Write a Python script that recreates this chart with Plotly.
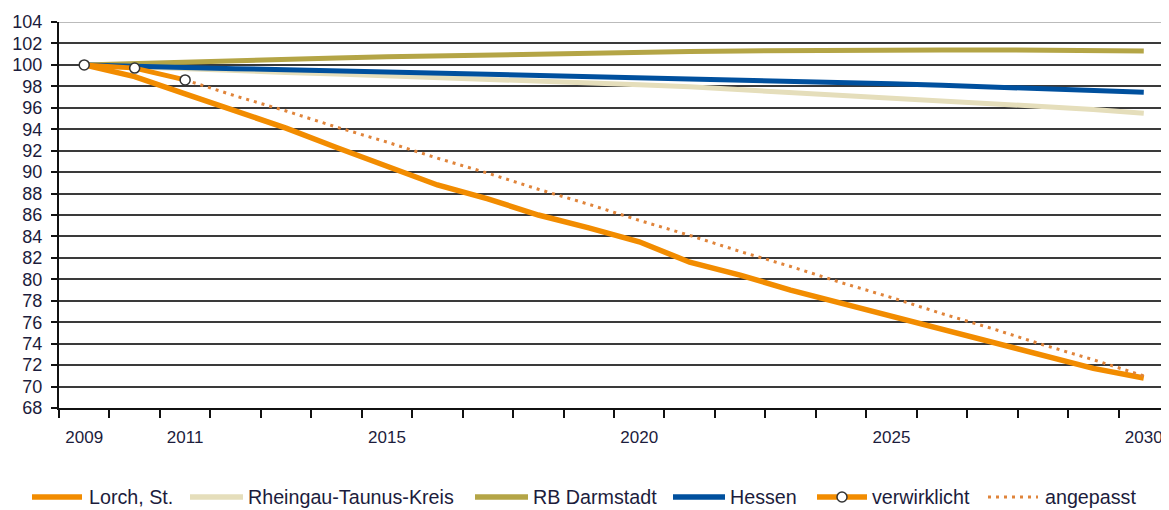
import plotly.graph_objects as go

years = list(range(2009, 2031))
lorch = [100, 98.9, 97.3, 95.7, 94.1, 92.3, 90.5, 88.8, 87.5, 86.0, 84.8, 83.5,
         81.6, 80.4, 79.0, 77.8, 76.6, 75.4, 74.2, 72.9, 71.7, 70.8]
rheingau = [100, 99.8, 99.6, 99.45, 99.3, 99.15, 99.0, 98.85, 98.7, 98.55, 98.35, 98.15,
            97.95, 97.7, 97.45, 97.2, 96.95, 96.7, 96.45, 96.2, 95.85, 95.5]
darmstadt = [100, 100.15, 100.3, 100.45, 100.55, 100.65, 100.75, 100.85, 100.95, 101.05, 101.1, 101.2,
             101.25, 101.3, 101.35, 101.4, 101.4, 101.4, 101.4, 101.4, 101.35, 101.3]
hessen = [100, 99.85, 99.75, 99.65, 99.55, 99.45, 99.35, 99.25, 99.15, 99.05, 98.95, 98.85,
          98.75, 98.65, 98.5, 98.4, 98.25, 98.1, 97.95, 97.8, 97.6, 97.45]
verw_years = [2009, 2010, 2011]
verwirklicht = [100, 99.7, 98.6]
ang_years = list(range(2011, 2031))
angepasst = [98.6, 97.1, 95.7, 94.2, 92.8, 91.3, 89.9, 88.4, 87.0, 85.5,
             84.1, 82.6, 81.2, 79.7, 78.3, 76.8, 75.4, 73.9, 72.5, 71.0]
x_label_years = [2009, 2011, 2015, 2020, 2025, 2030]
y_ticks = list(range(68, 105, 2))

FONT = "Liberation Sans, Arial, sans-serif"
TXT = "#1c1c3c"

C_LORCH = "#F28C00"
C_RTK = "#E5DEBB"
C_RB = "#B4A546"
C_HES = "#00509E"
C_ANG = "#E0843A"

# the page body adds an 8px offset; margins compensate so the plot area
# sits at x 59..1169, y 22..408 of the window
OFF = 8
W, H = 1169, 510
ML, MR, MT, MB = 59 - OFF, OFF, 22 - OFF, 110
PW, PH = W - ML - MR, H - MT - MB

fig = go.Figure()
fig.add_trace(go.Scatter(x=years, y=rheingau, mode="lines", name="Rheingau-Taunus-Kreis",
                         line=dict(color=C_RTK, width=5)))
fig.add_trace(go.Scatter(x=years, y=darmstadt, mode="lines", name="RB Darmstadt",
                         line=dict(color=C_RB, width=5)))
fig.add_trace(go.Scatter(x=years, y=hessen, mode="lines", name="Hessen",
                         line=dict(color=C_HES, width=5)))
fig.add_trace(go.Scatter(x=years, y=lorch, mode="lines", name="Lorch, St.",
                         line=dict(color=C_LORCH, width=5.5)))
fig.add_trace(go.Scatter(x=ang_years, y=angepasst, mode="lines", name="angepasst",
                         line=dict(color=C_ANG, width=3, dash="3px,5px")))
fig.add_trace(go.Scatter(x=verw_years, y=verwirklicht, mode="lines+markers", name="verwirklicht",
                         line=dict(color=C_LORCH, width=5),
                         marker=dict(size=10, color="white", line=dict(color="#333333", width=1.5))))

fig.update_layout(
    width=W, height=H,
    margin=dict(l=ML, r=MR, t=MT, b=MB),
    paper_bgcolor="white", plot_bgcolor="white",
    font=dict(family=FONT, size=18, color=TXT),
    showlegend=False,
)
fig.update_xaxes(
    range=[2008.5, 2030.5], tickmode="array", tickvals=x_label_years,
    ticktext=[str(v) for v in x_label_years],
    ticks="outside", ticklen=0, ticklabelstandoff=13, automargin=False,
    showgrid=False, zeroline=False,
    showline=True, linecolor="#111111", linewidth=2,
    minor=dict(tick0=2008.5, dtick=1, ticks="outside", ticklen=8, tickwidth=2,
               tickcolor="#111111", showgrid=False),
    tickfont=dict(family=FONT, size=17, color=TXT),
)
fig.update_yaxes(
    range=[68, 104], tickmode="array", tickvals=y_ticks,
    ticks="outside", ticklen=6, tickwidth=2, tickcolor="#111111",
    showgrid=True, gridcolor="#3a3a3a", gridwidth=1.5, automargin=False,
    zeroline=False, showline=True, linecolor="#111111", linewidth=2,
    tickfont=dict(family=FONT, size=18, color=TXT), ticklabelstandoff=5,
)
fig.add_shape(type="line", xref="paper", yref="y", x0=0, x1=1, y0=104, y1=104,
              line=dict(color="#bbbbbb", width=2), layer="above")


# ---- legend drawn below the plot (window pixel positions -> paper coords)
def px(xp):
    return (xp - 59) / PW


def py(yp):
    return (408 - yp) / PH


LEG_Y = 497
legend_items = [
    ("Lorch, St.", 32, 82, 87, dict(color=C_LORCH, width=5.5), False),
    ("Rheingau-Taunus-Kreis", 190, 243, 246, dict(color=C_RTK, width=5.5), False),
    ("RB Darmstadt", 475, 528, 531, dict(color=C_RB, width=5.5), False),
    ("Hessen", 673, 725, 728, dict(color=C_HES, width=5.5), False),
    ("verwirklicht", 817, 867, 870, dict(color=C_LORCH, width=5.5), True),
    ("angepasst", 988, 1038, 1043, dict(color=C_ANG, width=3, dash="3px,5px"), False),
]
for name, x0, x1, xt, ln, mk in legend_items:
    fig.add_shape(type="line", xref="paper", yref="paper", x0=px(x0), x1=px(x1),
                  y0=py(LEG_Y), y1=py(LEG_Y), line=ln, layer="above")
    if mk:
        xc = px((x0 + x1) / 2)
        fig.add_shape(type="circle", xref="paper", yref="paper",
                      xsizemode="pixel", ysizemode="pixel", xanchor=xc, yanchor=py(LEG_Y),
                      x0=-5, x1=5, y0=-5, y1=5,
                      fillcolor="white", line=dict(color="#333333", width=1.5), layer="above")
    fig.add_annotation(text=name, xref="paper", yref="paper", x=px(xt), y=py(LEG_Y),
                       xanchor="left", yanchor="middle", showarrow=False,
                       font=dict(family=FONT, size=19.7, color=TXT))

fig.write_html("out.html")
